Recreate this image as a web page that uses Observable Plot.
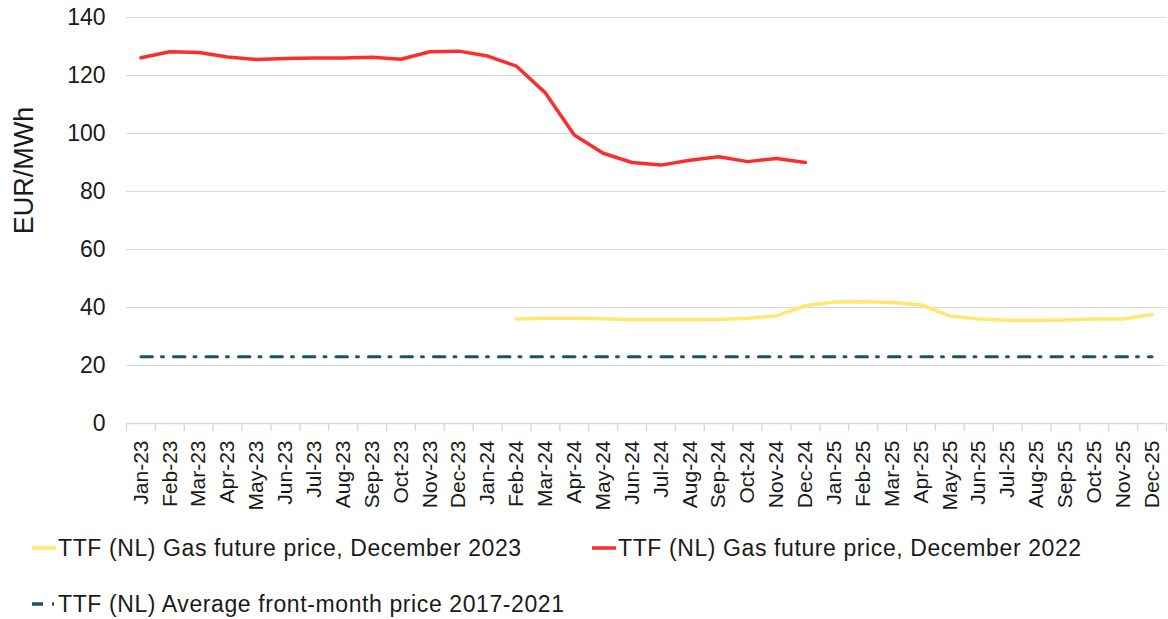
<!DOCTYPE html>
<html>
<head>
<meta charset="utf-8">
<script src="https://cdn.jsdelivr.net/npm/d3@7"></script>
<script src="https://cdn.jsdelivr.net/npm/@observablehq/plot@0.6"></script>
<style>
  body { margin: 0; background: #fff; font-family: "Liberation Sans", Arial, sans-serif; }
  #wrap { width: 1168px; position: relative; }
  #legend { width: 1168px; height: 104px; display: block; }
  #legend text { font-family: "Liberation Sans", Arial, sans-serif; font-size: 23px; fill: #1a1a1a; letter-spacing: 0.6px; }
</style>
</head>
<body>
<div id="wrap"></div>
<script>
const months = ["Jan-23","Feb-23","Mar-23","Apr-23","May-23","Jun-23","Jul-23","Aug-23","Sep-23","Oct-23","Nov-23","Dec-23",
                "Jan-24","Feb-24","Mar-24","Apr-24","May-24","Jun-24","Jul-24","Aug-24","Sep-24","Oct-24","Nov-24","Dec-24",
                "Jan-25","Feb-25","Mar-25","Apr-25","May-25","Jun-25","Jul-25","Aug-25","Sep-25","Oct-25","Nov-25","Dec-25"];

// TTF (NL) Gas future price, December 2022 (Jan-23 .. Dec-24)
const dec2022Months = months.slice(0, 24);
const dec2022Values = [126.1, 128.2, 127.9, 126.4, 125.5, 125.9, 126.0, 126.0, 126.3, 125.6, 128.2, 128.4,
                       126.7, 123.2, 114.0, 99.5, 93.2, 90.0, 89.1, 90.8, 92.0, 90.3, 91.4, 90.0];

// TTF (NL) Gas future price, December 2023 (Feb-24 .. Dec-25)
const dec2023Months = months.slice(13);
const dec2023Values = [36.0, 36.3, 36.3, 36.1, 35.8, 35.8, 35.8, 35.9, 36.3, 37.1, 40.6,
                       41.9, 42.0, 41.7, 40.9, 37.1, 36.0, 35.6, 35.6, 35.7, 36.0, 36.0, 37.6];

// TTF (NL) Average front-month price 2017-2021
const avgMonths = months;
const avgValues = months.map(() => 23.0);

const yTicks = [0, 20, 40, 60, 80, 100, 120, 140];

const seriesNames = [
  "TTF (NL) Gas future price, December 2023",
  "TTF (NL) Gas future price, December 2022",
  "TTF (NL) Average front-month price 2017-2021"
];
const colors = ["#ffe770", "#fb2d2d", "#1a5366"];

const red = dec2022Months.map((m, i) => ({month: m, value: dec2022Values[i]}));
const yellow = dec2023Months.map((m, i) => ({month: m, value: dec2023Values[i]}));
const avg = avgMonths.map((m, i) => ({month: m, value: avgValues[i]}));

const W = 1168, H = 515, ML = 126, MR = 2, MT = 17, MB = 92;
const bw = (W - ML - MR) / months.length;
const font = '"Liberation Sans", Arial, sans-serif';

const chart = Plot.plot({
  width: W, height: H,
  marginLeft: ML, marginRight: MR, marginTop: MT, marginBottom: MB,
  x: {type: "band", domain: months, padding: 0},
  y: {domain: [0, 140]},
  style: {fontFamily: font, color: "#1a1a1a", background: "#fff", overflow: "visible"},
  marks: [
    Plot.gridY({ticks: yTicks, stroke: "#d9d9d9", strokeOpacity: 1, strokeWidth: 1}),
    Plot.ruleY([0], {stroke: "#d9d9d9", strokeWidth: 1.5}),
    Plot.axisX({tickSize: 8, tickFormat: () => "", dx: -bw / 2, stroke: "#d9d9d9", strokeWidth: 1.5, label: null}),
    Plot.axisX({ticks: [months[months.length - 1]], tickSize: 8, tickFormat: () => "", dx: bw / 2, stroke: "#d9d9d9", strokeWidth: 1.5, label: null}),
    Plot.axisX({tickSize: 0, tickPadding: 17, tickRotate: -90, fontSize: 21, fill: "#1a1a1a", label: null}),
    Plot.axisY({ticks: yTicks, tickSize: 0, tickPadding: 21, fontSize: 23, fill: "#1a1a1a", label: null}),
    Plot.text(["EUR/MWh"], {frameAnchor: "left", textAnchor: "middle", rotate: -90, dx: -102, dy: -50, fontSize: 27, fill: "#1a1a1a"}),
    Plot.line(avg, {x: "month", y: "value", stroke: colors[2], strokeWidth: 3, strokeDasharray: "11.5,9,2,10"}),
    Plot.line(yellow, {x: "month", y: "value", stroke: colors[0], strokeWidth: 3.5}),
    Plot.line(red, {x: "month", y: "value", stroke: colors[1], strokeWidth: 3.5})
  ]
});
chart.style.display = "block";
document.getElementById("wrap").appendChild(chart);

// Legend below the chart
const ns = "http://www.w3.org/2000/svg";
const leg = document.createElementNS(ns, "svg");
leg.setAttribute("id", "legend");
leg.setAttribute("width", W);
leg.setAttribute("height", 104);
const items = [
  {name: seriesNames[0], color: colors[0], x: 32, y: 33, dash: null},
  {name: seriesNames[1], color: colors[1], x: 592, y: 33, dash: null},
  {name: seriesNames[2], color: colors[2], x: 32, y: 89, dash: "11,9,2,10"}
];
for (const it of items) {
  const ln = document.createElementNS(ns, "line");
  ln.setAttribute("x1", it.x);
  ln.setAttribute("x2", it.x + 24);
  ln.setAttribute("y1", it.y);
  ln.setAttribute("y2", it.y);
  ln.setAttribute("stroke", it.color);
  ln.setAttribute("stroke-width", 3.5);
  if (it.dash) ln.setAttribute("stroke-dasharray", it.dash);
  leg.appendChild(ln);
  const t = document.createElementNS(ns, "text");
  t.setAttribute("x", it.x + 26);
  t.setAttribute("y", it.y + 8);
  t.textContent = it.name;
  leg.appendChild(t);
}
document.getElementById("wrap").appendChild(leg);
</script>
</body>
</html>
